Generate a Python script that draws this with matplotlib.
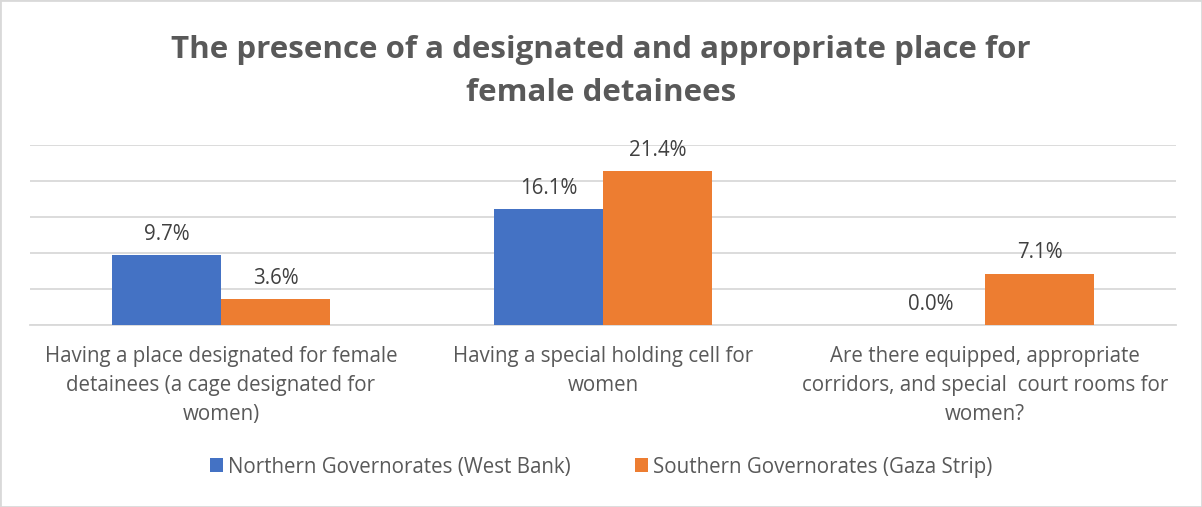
import matplotlib
matplotlib.use("Agg")
import matplotlib.pyplot as plt
from matplotlib.patches import Patch, Rectangle

plt.rcParams['font.family'] = ['Open Sans', 'DejaVu Sans']

# 数据
categories = [
    "Having a place designated for female\ndetainees (a cage designated for\nwomen)",
    "Having a special holding cell for\nwomen",
    "Are there equipped, appropriate\ncorridors, and special  court rooms for\nwomen?",
]
series_names = ["Northern Governorates (West Bank)", "Southern Governorates (Gaza Strip)"]
north = [9.7, 16.1, 0.0]
south = [3.6, 21.4, 7.1]

BLUE = "#4472C4"
ORANGE = "#ED7D31"
GRID = "#D9D9D9"
TEXT = "#595959"
LABEL = "#404040"
FS = 14.8

fig = plt.figure(figsize=(12.02, 5.07), dpi=100)
ax = fig.add_axes([30 / 1202, 182 / 507, 1146 / 1202, 180 / 507])

x = list(range(len(categories)))
w = 109 / 382
b1 = ax.bar([i - w / 2 for i in x], north, width=w, color=BLUE, zorder=3)
b2 = ax.bar([i + w / 2 for i in x], south, width=w, color=ORANGE, zorder=3)

for bars in (b1, b2):
    ax.bar_label(bars, labels=["{:.1f}%".format(v) for v in bars.datavalues],
                 padding=7.5, fontsize=FS, color=LABEL)

ax.set_xlim(-0.5, 2.5)
ax.set_ylim(0, 25)
ax.set_yticks([0, 5, 10, 15, 20, 25])
ax.yaxis.grid(True, color=GRID, linewidth=1.3, zorder=0)
ax.tick_params(axis='y', left=False, labelleft=False)
ax.set_xticks(x)
ax.set_xticklabels(categories, fontsize=FS, color=TEXT, linespacing=1.52)
ax.tick_params(axis='x', length=0, pad=15)
for s in ["top", "right", "left"]:
    ax.spines[s].set_visible(False)
ax.spines["bottom"].set_color(GRID)
ax.spines["bottom"].set_linewidth(1.3)

# 标题
fig.text(0.5, 1 - 101 / 507, "The presence of a designated and appropriate place for\nfemale detainees",
         ha="center", va="baseline", fontsize=22.5, fontweight="bold", color=TEXT, linespacing=1.55)

# 图例
handles = [Patch(facecolor=BLUE), Patch(facecolor=ORANGE)]
fig.legend(handles, series_names, loc="center", bbox_to_anchor=(0.5, 1 - 467 / 507),
           ncol=2, frameon=False, fontsize=FS, labelcolor=TEXT,
           handlelength=0.65, handleheight=0.65, handletextpad=0.25, columnspacing=3.1)

# 外框
fig.add_artist(Rectangle((0, 0), 1, 1, transform=fig.transFigure, fill=False,
                         edgecolor=GRID, linewidth=2))

fig.savefig("out.png", dpi=100)
